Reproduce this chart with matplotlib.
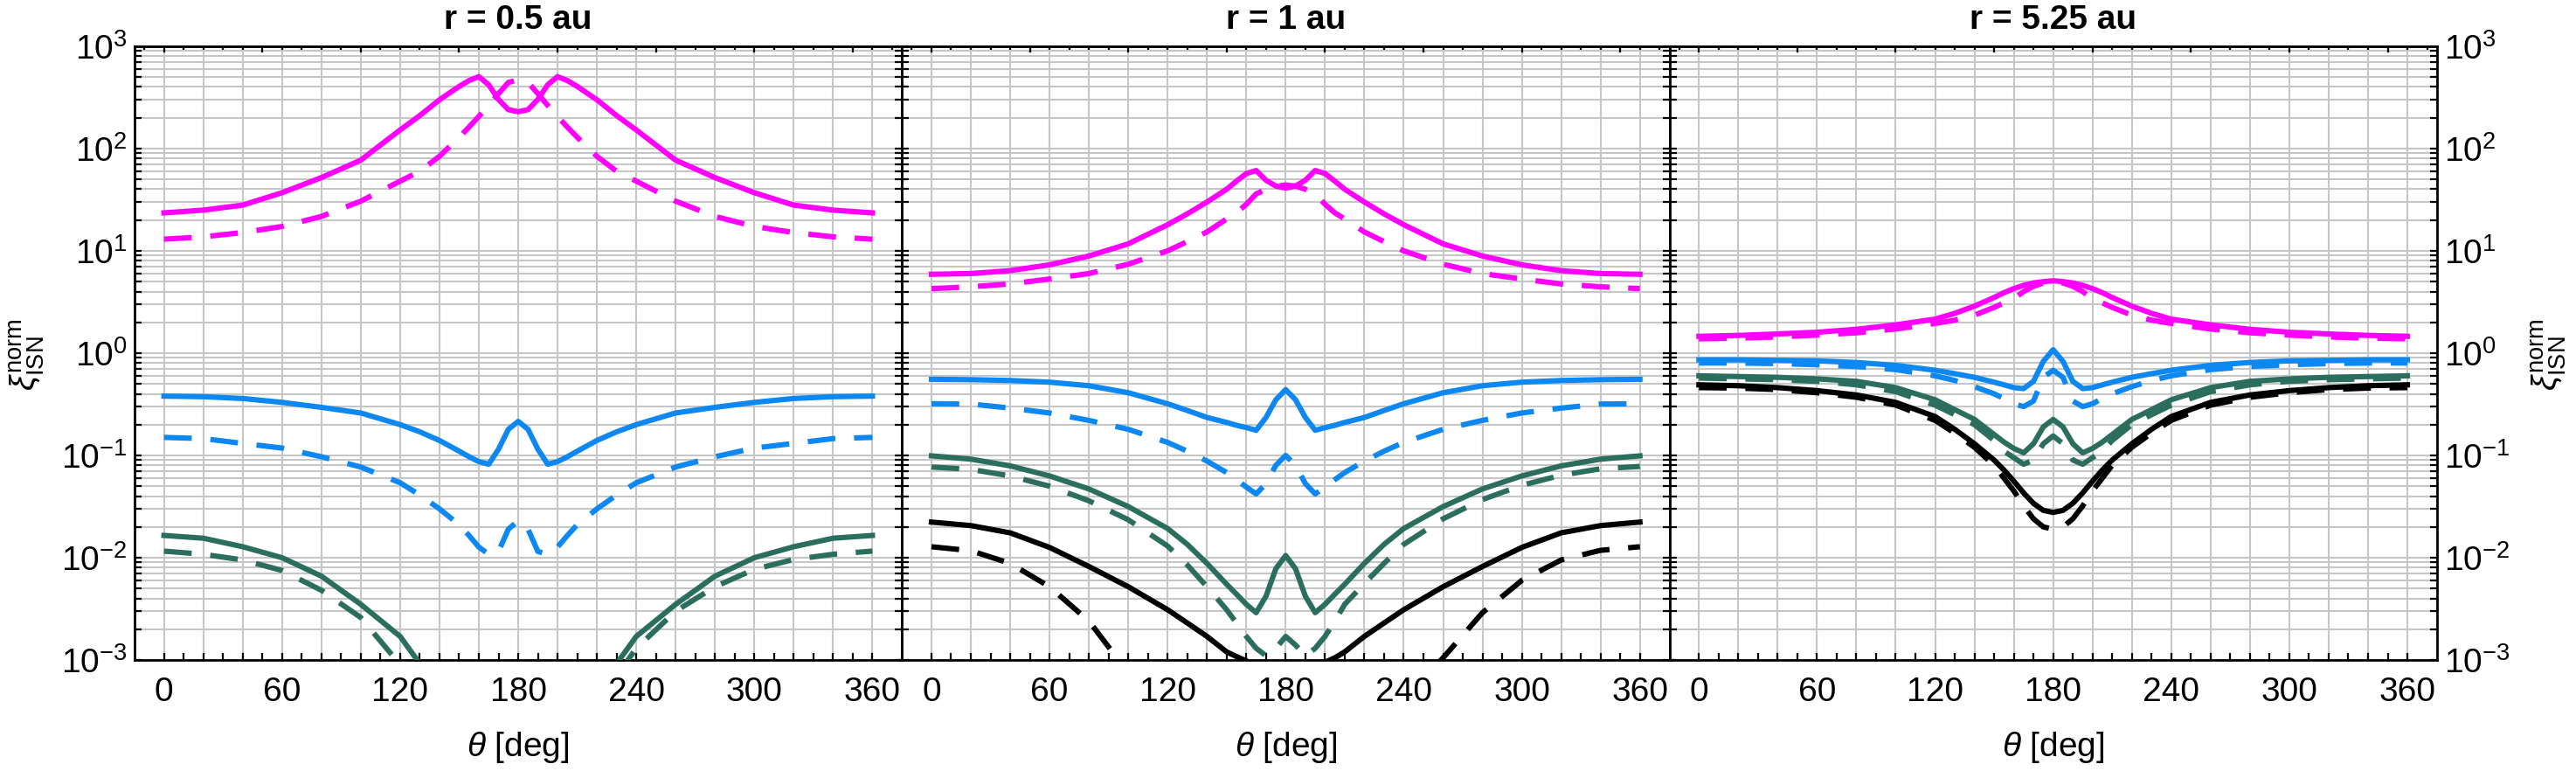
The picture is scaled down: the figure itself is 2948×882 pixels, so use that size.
import matplotlib
matplotlib.use('Agg')
import matplotlib.pyplot as plt
from matplotlib.ticker import FixedLocator, LogLocator, LogFormatterMathtext, NullFormatter

plt.rcParams['font.family'] = ['Liberation Sans', 'DejaVu Sans']
plt.rcParams['mathtext.fontset'] = 'custom'
plt.rcParams['mathtext.rm'] = 'Liberation Sans'
plt.rcParams['mathtext.it'] = 'Liberation Sans:italic'
plt.rcParams['mathtext.bf'] = 'Liberation Sans:bold'

# angle grid (deg)
theta = [0, 20, 40, 60, 80, 100, 120, 130, 140, 150, 155, 160, 165, 170, 175, 180,
         185, 190, 195, 200, 205, 210, 220, 230, 240, 260, 280, 300, 320, 340, 360]

titles = ['r = 0.5 au', 'r = 1 au', 'r = 5.25 au']

# r = 0.5 au
mag1 = [23.5, 25, 28, 37, 52, 77, 152, 210, 300, 405, 462, 505, 420, 302, 240, 229,
        240, 302, 420, 505, 462, 405, 300, 210, 152, 77, 52, 37, 28, 25, 23.5]
mag1d = [13.0, 13.7, 15.1, 17.3, 21.7, 30.6, 48, 60, 84, 129, 162, 206, 264, 344, 443, 470,
         443, 344, 264, 206, 162, 129, 84, 60, 48, 30.6, 21.7, 17.3, 15.1, 13.7, 13.0]
blue1 = [0.38, 0.375, 0.36, 0.33, 0.295, 0.26, 0.20, 0.17, 0.14, 0.11, 0.097, 0.087, 0.082, 0.115, 0.18, 0.215,
         0.18, 0.115, 0.082, 0.087, 0.097, 0.11, 0.14, 0.17, 0.20, 0.26, 0.295, 0.33, 0.36, 0.375, 0.38]
blue1d = [0.15, 0.146, 0.131, 0.118, 0.097, 0.077, 0.054, 0.041, 0.030, 0.021, 0.0165, 0.0127, 0.0108, 0.0115, 0.019, 0.023,
          0.019, 0.0115, 0.0108, 0.0127, 0.0165, 0.021, 0.030, 0.041, 0.054, 0.077, 0.097, 0.118, 0.131, 0.146, 0.15]
green1 = [0.0165, 0.0155, 0.0128, 0.0100, 0.0066, 0.0035, 0.0017, 0.00092, 0.0004, 0.00015, 0.0001, 0.0001, 0.0001, 0.0001, 0.0001, 0.0001,
          0.0001, 0.0001, 0.0001, 0.0001, 0.0001, 0.00015, 0.0004, 0.00092, 0.0017, 0.0035, 0.0066, 0.0100, 0.0128, 0.0155, 0.0165]
green1d = [0.0116, 0.0108, 0.0095, 0.0075, 0.0048, 0.0026, 0.0009, 0.0004, 0.00015, 0.0001, 0.0001, 0.0001, 0.0001, 0.0001, 0.0001, 0.0001,
           0.0001, 0.0001, 0.0001, 0.0001, 0.0001, 0.0001, 0.0002, 0.0007, 0.0013, 0.0030, 0.0052, 0.0077, 0.0096, 0.0108, 0.0116]

# r = 1 au
mag2 = [5.9, 6.0, 6.4, 7.3, 8.9, 11.7, 18, 23, 30, 40, 48, 57, 61, 49, 43, 41,
        43, 49, 61, 57, 48, 40, 30, 23, 18, 11.7, 8.9, 7.3, 6.4, 6.0, 5.9]
mag2d = [4.27, 4.45, 4.75, 5.3, 6.0, 7.4, 10, 12.3, 15.3, 20.5, 23.5, 28.5, 36, 40, 43, 44,
         43, 40, 36, 28.5, 23.5, 20.5, 15.3, 12.3, 10, 7.4, 6.0, 5.3, 4.75, 4.45, 4.27]
blue2 = [0.555, 0.55, 0.54, 0.52, 0.48, 0.41, 0.32, 0.275, 0.235, 0.21, 0.197, 0.187, 0.176, 0.235, 0.35, 0.44,
         0.35, 0.235, 0.176, 0.187, 0.197, 0.21, 0.235, 0.275, 0.32, 0.41, 0.48, 0.52, 0.54, 0.55, 0.555]
blue2d = [0.32, 0.318, 0.29, 0.26, 0.22, 0.18, 0.134, 0.11, 0.088, 0.068, 0.058, 0.049, 0.042, 0.053, 0.08, 0.1,
          0.08, 0.053, 0.042, 0.049, 0.058, 0.068, 0.088, 0.11, 0.134, 0.18, 0.22, 0.26, 0.29, 0.318, 0.32]
green2 = [0.099, 0.092, 0.079, 0.063, 0.047, 0.0316, 0.0193, 0.0135, 0.0088, 0.0055, 0.0044, 0.0035, 0.0029, 0.0042, 0.0078, 0.0105,
          0.0078, 0.0042, 0.0029, 0.0035, 0.0044, 0.0055, 0.0088, 0.0135, 0.0193, 0.0316, 0.047, 0.063, 0.079, 0.092, 0.099]
green2d = [0.077, 0.073, 0.063, 0.05, 0.036, 0.0235, 0.013, 0.0085, 0.0052, 0.0031, 0.0023, 0.0017, 0.0013, 0.0011, 0.0013, 0.0017,
           0.0014, 0.0011, 0.0013, 0.0017, 0.0024, 0.0035, 0.0056, 0.0088, 0.0135, 0.024, 0.037, 0.051, 0.064, 0.074, 0.078]
black2 = [0.0223, 0.0206, 0.0175, 0.0126, 0.0082, 0.0052, 0.0031, 0.0023, 0.0017, 0.0012, 0.00108, 0.00098, 0.0008, 0.0006, 0.0005, 0.0005,
          0.0005, 0.0006, 0.0008, 0.00095, 0.00105, 0.0012, 0.0017, 0.0023, 0.0031, 0.0052, 0.0082, 0.0126, 0.0175, 0.0206, 0.0223]
black2d = [0.0128, 0.0117, 0.0088, 0.0052, 0.0024, 0.00075, 0.0002, 0.0001, 0.0001, 0.0001, 0.0001, 0.0001, 0.0001, 0.0001, 0.0001, 0.0001,
           0.0001, 0.0001, 0.0001, 0.0001, 0.0001, 0.0001, 0.0001, 0.0002, 0.0004, 0.00105, 0.0029, 0.006, 0.0095, 0.0118, 0.0128]

# r = 5.25 au
mag3 = [1.46, 1.49, 1.54, 1.6, 1.71, 1.89, 2.15, 2.45, 2.88, 3.5, 3.9, 4.27, 4.6, 4.85, 5.0, 5.1,
        5.0, 4.85, 4.6, 4.27, 3.9, 3.5, 2.88, 2.45, 2.15, 1.89, 1.71, 1.6, 1.54, 1.49, 1.46]
mag3d = [1.38, 1.40, 1.44, 1.5, 1.58, 1.72, 1.95, 2.1, 2.35, 2.8, 3.1, 3.4, 4.0, 4.5, 4.85, 5.0,
         4.85, 4.5, 4.0, 3.4, 3.1, 2.8, 2.35, 2.1, 1.95, 1.72, 1.58, 1.5, 1.44, 1.40, 1.38]
blue3 = [0.86, 0.86, 0.85, 0.84, 0.81, 0.76, 0.68, 0.63, 0.58, 0.52, 0.49, 0.46, 0.45, 0.53, 0.83, 1.08,
         0.83, 0.53, 0.45, 0.46, 0.49, 0.52, 0.58, 0.63, 0.68, 0.76, 0.81, 0.84, 0.85, 0.86, 0.86]
blue3d = [0.80, 0.80, 0.79, 0.77, 0.74, 0.69, 0.6, 0.54, 0.47, 0.40, 0.36, 0.32, 0.30, 0.34, 0.58, 0.68,
          0.58, 0.34, 0.30, 0.32, 0.36, 0.40, 0.47, 0.54, 0.6, 0.69, 0.74, 0.77, 0.79, 0.80, 0.80]
green3 = [0.60, 0.59, 0.58, 0.56, 0.53, 0.46, 0.35, 0.28, 0.225, 0.16, 0.135, 0.117, 0.106, 0.13, 0.19, 0.225,
          0.19, 0.13, 0.106, 0.117, 0.135, 0.16, 0.225, 0.28, 0.35, 0.46, 0.53, 0.56, 0.58, 0.59, 0.60]
green3d = [0.57, 0.56, 0.55, 0.53, 0.49, 0.42, 0.31, 0.25, 0.2, 0.14, 0.11, 0.095, 0.082, 0.09, 0.13, 0.155,
           0.13, 0.09, 0.082, 0.095, 0.11, 0.14, 0.2, 0.25, 0.31, 0.42, 0.49, 0.53, 0.55, 0.56, 0.57]
black3 = [0.49, 0.48, 0.46, 0.43, 0.39, 0.33, 0.24, 0.18, 0.13, 0.09, 0.072, 0.056, 0.043, 0.034, 0.029, 0.0277,
          0.029, 0.034, 0.043, 0.056, 0.072, 0.09, 0.13, 0.18, 0.24, 0.33, 0.39, 0.43, 0.46, 0.48, 0.49]
black3d = [0.46, 0.455, 0.44, 0.41, 0.37, 0.31, 0.22, 0.165, 0.12, 0.08, 0.06, 0.045, 0.032, 0.024, 0.02, 0.019,
           0.02, 0.024, 0.032, 0.045, 0.06, 0.08, 0.12, 0.165, 0.22, 0.31, 0.37, 0.41, 0.44, 0.455, 0.46]

MAG = '#ff00ff'
BLUE = '#0d88f2'
GREEN = '#2b6e5e'
BLACK = '#000000'

panels = [
    [(mag1, mag1d, MAG), (blue1, blue1d, BLUE), (green1, green1d, GREEN)],
    [(mag2, mag2d, MAG), (blue2, blue2d, BLUE), (green2, green2d, GREEN), (black2, black2d, BLACK)],
    [(mag3, mag3d, MAG), (blue3, blue3d, BLUE), (green3, green3d, GREEN), (black3, black3d, BLACK)],
]

fig, axes = plt.subplots(1, 3, figsize=(14.74, 4.41), dpi=200)
fig.subplots_adjust(left=0.0522, right=0.946, top=0.94, bottom=0.144, wspace=0)

grid_col = '#c6c6c6'
for i, ax in enumerate(axes):
    ax.set_yscale('log')
    ax.set_xlim(-15, 375)
    ax.set_ylim(1e-3, 1e3)

    # grid lines
    for g in range(0, 361, 20):
        ax.axvline(g, color=grid_col, lw=0.75, zorder=0)
    for k in range(-3, 3):
        for m in range(1, 10):
            ax.axhline(m * 10.0 ** k, color=grid_col, lw=0.75, zorder=0)

    for solid, dashed, col in panels[i]:
        ax.plot(theta, solid, color=col, lw=2.2, zorder=3)
        ln, = ax.plot(theta, dashed, color=col, lw=2.2, zorder=3)
        ln.set_dashes([5.2, 3.5])

    # x ticks bottom
    ax.xaxis.set_major_locator(FixedLocator(range(0, 361, 60)))
    ax.xaxis.set_minor_locator(FixedLocator(range(0, 361, 10)))
    ax.tick_params(axis='x', which='both', direction='in', length=3, width=0.8,
                   top=False, labelsize=14, pad=7)
    # x ticks top
    sec = ax.secondary_xaxis('top')
    sec.xaxis.set_major_locator(FixedLocator(range(0, 351, 50)))
    sec.xaxis.set_minor_locator(FixedLocator(range(-10, 371, 10)))
    sec.tick_params(which='major', direction='in', length=2.6, width=0.8, labeltop=False)
    sec.tick_params(which='minor', direction='in', length=1.5, width=0.8)
    sec.spines['top'].set_linewidth(1.0)

    # y ticks
    ax.yaxis.set_major_locator(LogLocator(base=10, numticks=10))
    ax.yaxis.set_minor_locator(LogLocator(base=10, subs=range(2, 10), numticks=20))
    ax.yaxis.set_major_formatter(LogFormatterMathtext())
    ax.yaxis.set_minor_formatter(NullFormatter())
    ax.tick_params(axis='y', which='both', direction='in', length=3, width=0.8,
                   left=True, right=True, labelsize=14, pad=3)
    ax.tick_params(axis='y', labelleft=(i == 0), labelright=(i == 2))

    for s in ax.spines.values():
        s.set_linewidth(1.0)

    ax.set_title(titles[i], fontsize=14, fontweight='bold', pad=7)
    ax.set_xlabel(r'$\theta$ [deg]', fontsize=14, labelpad=9)

ylab = r'$\xi_{\rm ISN}^{\rm norm}$'
fig.text(0.003, 0.54, ylab, rotation=90, va='center', ha='left', fontsize=14)
fig.text(0.997, 0.54, ylab, rotation=90, va='center', ha='right', fontsize=14)

fig.savefig('out.png', dpi=200)
